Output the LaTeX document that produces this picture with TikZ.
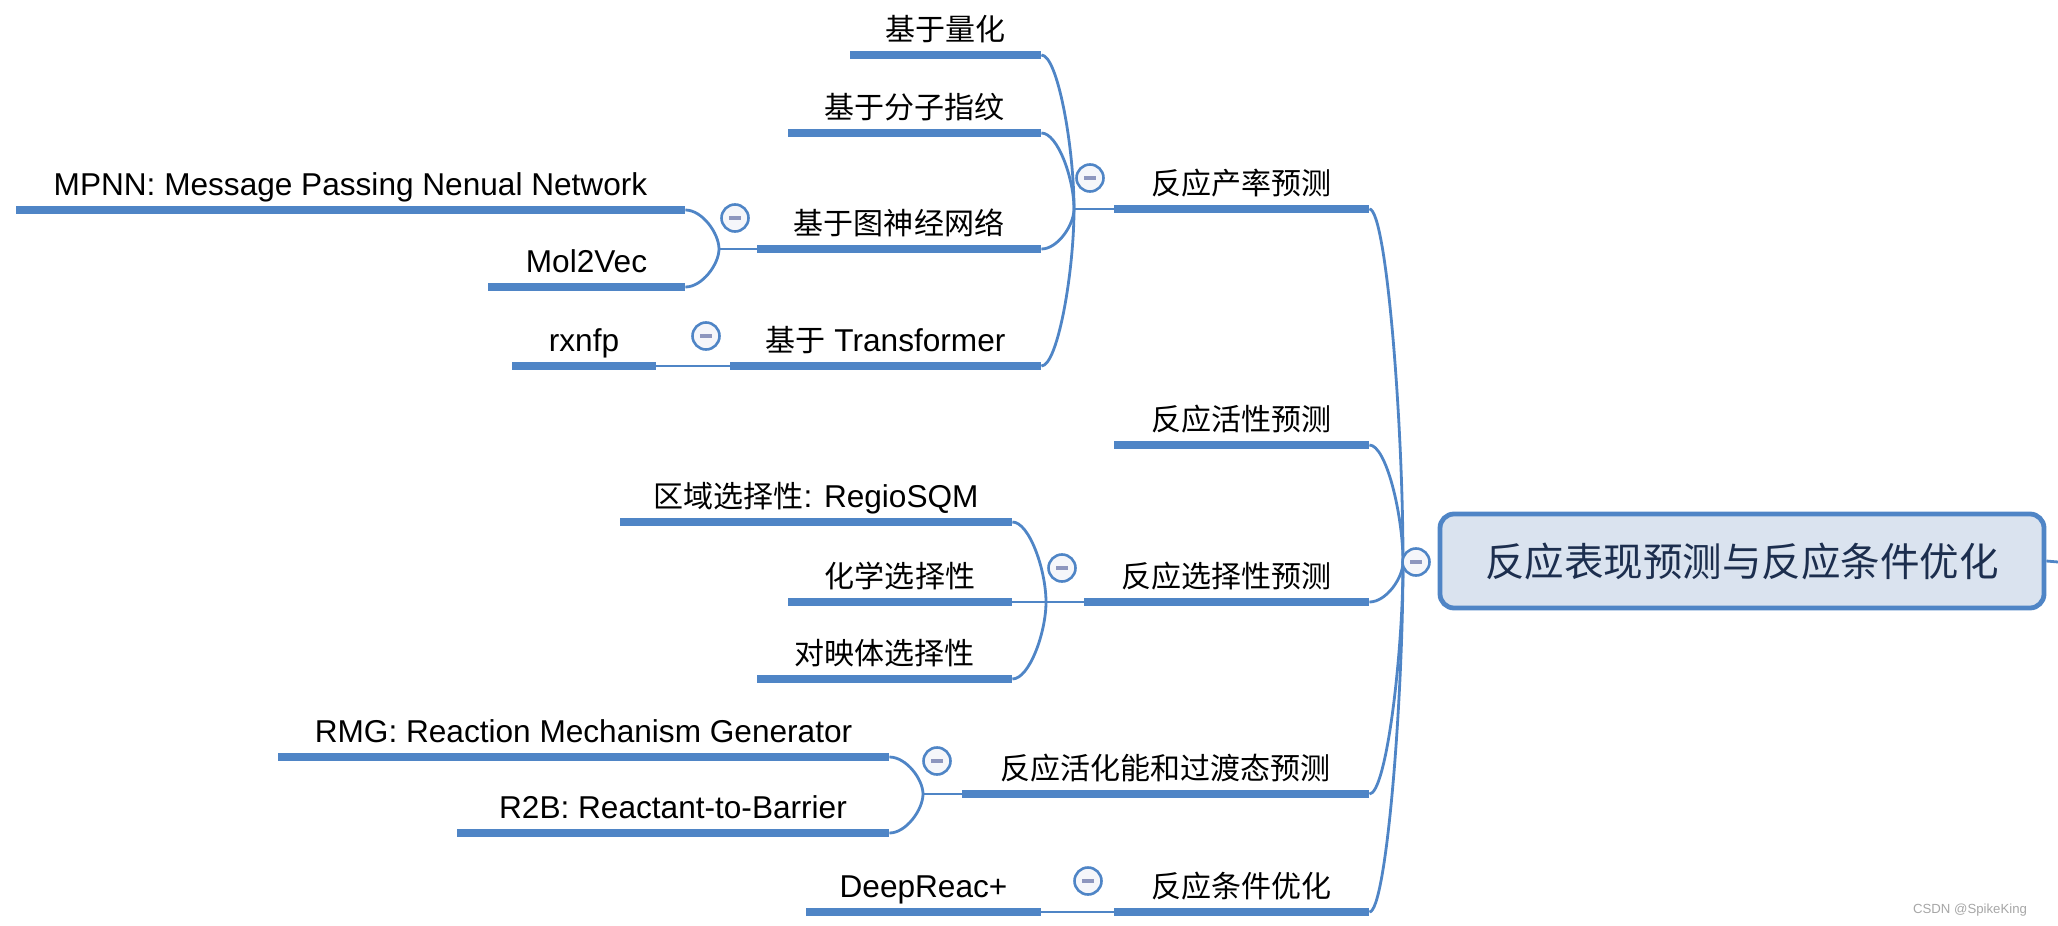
\documentclass[tikz,border=0pt]{standalone}
\usepackage{fontspec}
\setmainfont{Liberation Sans}
\newfontfamily\cjk[Scale=0.95]{Noto Sans CJK SC}
\usetikzlibrary{calc}
\definecolor{barblue}{HTML}{4F85C6}
\definecolor{rootfill}{HTML}{DAE3EF}
\definecolor{roottext}{HTML}{1C2E4E}
\definecolor{minusc}{HTML}{8D96BE}
\definecolor{circfill}{HTML}{F5F6FA}
\definecolor{wmgrey}{HTML}{A6A6A6}
\tikzset{
  barstyle/.style={rectangle, fill=barblue, draw=none, inner sep=0pt, minimum height=4.4pt},
  lbl/.style={anchor=base, inner sep=0pt, font=\fontsize{15.8}{18}\selectfont, text=black},
  conn/.style={draw=barblue, line width=1.4pt},
  fold/.style={circle, draw=barblue, line width=1.3pt, fill=circfill, minimum size=13.5pt, inner sep=0pt,
    path picture={\draw[minusc, line width=1.6pt] ([xshift=-3pt]path picture bounding box.center) -- ([xshift=3pt]path picture bounding box.center);}},
  rootbox/.style={draw=barblue, line width=2.4pt, fill=rootfill, rounded corners=7pt, minimum width=302pt, minimum height=47pt, inner sep=0pt, font=\fontsize{20.8}{24}\selectfont, text=roottext},
  wmark/.style={anchor=base, inner sep=0pt, font=\fontsize{6.6}{8}\selectfont, text=wmgrey},
}
\newcommand\mbar[4]{\node[barstyle, minimum width={(#3-#2)*0.5pt}] (#1) at ({(#2+#3)/2},#4) {};}
\newcommand\mlbl[3]{\node[lbl] (#1) at ([yshift=7.5pt]#2.center) {#3};}
\newcommand\brc[2]{\draw[conn] (#1) .. controls ($(#1)!0.5!(#1-|#2)$) and ($(#2)!0.4!(#2|-#1)$) .. (#2);}
\begin{document}
\begin{tikzpicture}[x=0.5pt, y=-0.5pt]
\useasboundingbox (0,0) rectangle (2058,926);

% root
\node[rootbox] (root) at (1742,561) {\cjk 反应表现预测与反应条件优化};
\coordinate (hub0) at (1403,562);
\coordinate (redge) at (2058,562);

% level 1 bars
\mbar{L1}{1114}{1369}{209}
\mbar{L2}{1114}{1369}{445}
\mbar{L3}{1084}{1369}{602}
\mbar{L4}{962}{1369}{794}
\mbar{L5}{1114}{1369}{912}
\mlbl{tL1}{L1}{\cjk 反应产率预测}
\mlbl{tL2}{L2}{\cjk 反应活性预测}
\mlbl{tL3}{L3}{\cjk 反应选择性预测}
\mlbl{tL4}{L4}{\cjk 反应活化能和过渡态预测}
\mlbl{tL5}{L5}{\cjk 反应条件优化}

% level 2 under L1
\mbar{a1}{850}{1041}{55}
\mbar{a2}{788}{1041}{133}
\mbar{a3}{757}{1041}{249}
\mbar{a4}{730}{1041}{366}
\mlbl{ta1}{a1}{\cjk 基于量化}
\mlbl{ta2}{a2}{\cjk 基于分子指纹}
\mlbl{ta3}{a3}{\cjk 基于图神经网络}
\mlbl{ta4}{a4}{{\cjk 基于} Transformer}
\coordinate (h1) at (1074,209);

% level 3
\mbar{m1}{16}{685}{210}
\mbar{m2}{488}{685}{287}
\mlbl{tm1}{m1}{MPNN: Message Passing Nenual Network}
\mlbl{tm2}{m2}{Mol2Vec}
\coordinate (h13) at (719,249);
\mbar{x1}{512}{656}{366}
\mlbl{tx1}{x1}{rxnfp}

% level 2 under L3
\mbar{s1}{620}{1012}{522}
\mbar{s2}{788}{1012}{602}
\mbar{s3}{757}{1012}{679}
\mlbl{ts1}{s1}{{\cjk 区域选择性}: RegioSQM}
\mlbl{ts2}{s2}{\cjk 化学选择性}
\mlbl{ts3}{s3}{\cjk 对映体选择性}
\coordinate (h3) at (1046,602);

% level 2 under L4
\mbar{r1}{278}{889}{757}
\mbar{r2}{457}{889}{833}
\mlbl{tr1}{r1}{RMG: Reaction Mechanism Generator}
\mlbl{tr2}{r2}{R2B: Reactant-to-Barrier}
\coordinate (h4) at (923,794);

% level 2 under L5
\mbar{d1}{806}{1041}{912}
\mlbl{td1}{d1}{DeepReac+}

% connectors
\draw[conn] (root.east) -- (redge);
\brc{L1.east}{hub0}
\brc{L2.east}{hub0}
\brc{L3.east}{hub0}
\brc{L4.east}{hub0}
\brc{L5.east}{hub0}

\brc{a1.east}{h1}
\brc{a2.east}{h1}
\brc{a3.east}{h1}
\brc{a4.east}{h1}
\draw[conn] (h1) -- (L1.west);

\brc{m1.east}{h13}
\brc{m2.east}{h13}
\draw[conn] (h13) -- (a3.west);
\draw[conn] (x1.east) -- (a4.west);

\brc{s1.east}{h3}
\brc{s2.east}{h3}
\brc{s3.east}{h3}
\draw[conn] (h3) -- (L3.west);

\brc{r1.east}{h4}
\brc{r2.east}{h4}
\draw[conn] (h4) -- (L4.west);

\draw[conn] (d1.east) -- (L5.west);

% fold circles
\node[fold] (c0) at (1416,562) {};
\node[fold] (c1) at (1090,178) {};
\node[fold] (c13) at (735,218) {};
\node[fold] (c14) at (706,336) {};
\node[fold] (c3) at (1062,568) {};
\node[fold] (c4) at (937,761) {};
\node[fold] (c5) at (1088,881) {};

% watermark
\node[wmark] (wm) at (1970,913) {CSDN @SpikeKing};
\end{tikzpicture}
\end{document}
